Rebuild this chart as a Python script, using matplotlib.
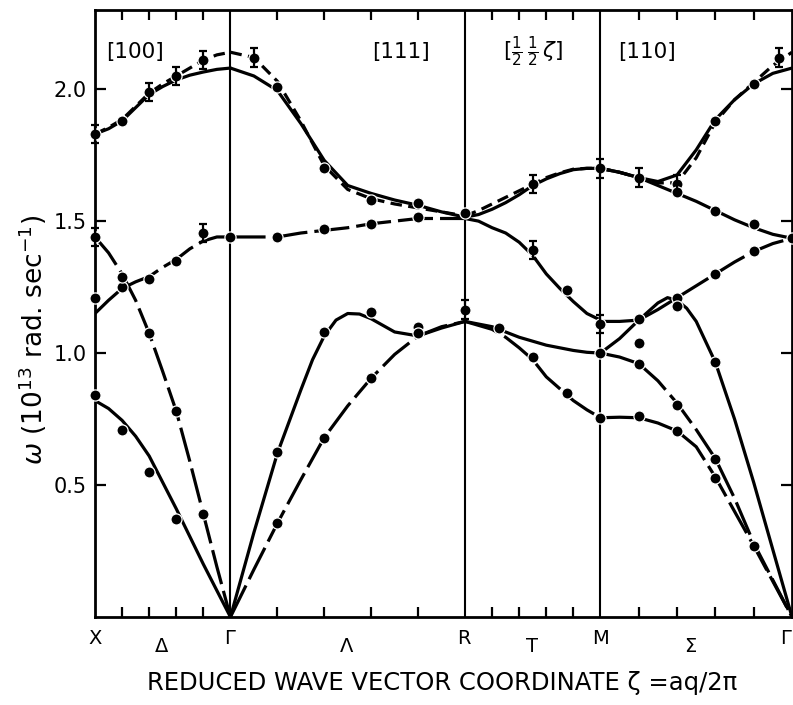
import numpy as np
import matplotlib
matplotlib.use("Agg")
import matplotlib.pyplot as plt
from matplotlib.transforms import blended_transform_factory

plt.rcParams['font.family'] = ['DejaVu Sans']
plt.rcParams['mathtext.fontset'] = 'dejavusans'

# ---------------- data (reduced wave vector zeta, omega in 1e13 rad/s) -------------
Z_100 = [0.50, 0.45, 0.40, 0.35, 0.30, 0.25, 0.20, 0.15, 0.10, 0.05, 0.00]   # X -> Gamma
Z_111 = [0.00, 0.05, 0.10, 0.15, 0.20, 0.25, 0.30, 0.35, 0.40, 0.45, 0.50]   # Gamma -> R
Z_HHZ = [0.50, 0.45, 0.40, 0.35, 0.30, 0.25, 0.20, 0.15, 0.10, 0.05, 0.00]   # R -> M
Z_110 = [0.50, 0.45, 0.40, 0.35, 0.30, 0.25, 0.20, 0.15, 0.10, 0.05, 0.00]   # M -> Gamma
Z_111_A = [0.00, 0.05, 0.10, 0.15, 0.175, 0.20, 0.225, 0.25, 0.275, 0.30, 0.35, 0.40, 0.45, 0.50]
Z_110_E = [0.50, 0.45, 0.40, 0.35, 0.325, 0.30, 0.275, 0.25, 0.20, 0.15, 0.10, 0.05, 0.00]

w100_top_solid = [1.83, 1.85, 1.88, 1.93, 1.98, 2.01, 2.035, 2.053, 2.065, 2.075, 2.08]
w100_top_dash = [1.83, 1.855, 1.885, 1.935, 1.985, 2.02, 2.05, 2.08, 2.11, 2.13, 2.14]
w100_mid = [1.15, 1.20, 1.245, 1.27, 1.29, 1.325, 1.355, 1.395, 1.425, 1.44, 1.44]
w100_steep = [1.44, 1.38, 1.30, 1.20, 1.075, 0.93, 0.78, 0.59, 0.39, 0.19, 0.00]
w100_low = [0.82, 0.79, 0.745, 0.685, 0.61, 0.51, 0.41, 0.305, 0.20, 0.10, 0.00]

w111_top_solid = [2.08, 2.05, 1.995, 1.87, 1.73, 1.635, 1.605, 1.58, 1.56, 1.535, 1.515]
w111_top_dash = [2.14, 2.12, 2.03, 1.88, 1.71, 1.62, 1.585, 1.565, 1.55, 1.535, 1.52]
w111_mid = [1.44, 1.44, 1.44, 1.455, 1.465, 1.475, 1.49, 1.50, 1.51, 1.51, 1.51]
w111_low_a = [0.00, 0.32, 0.62, 0.86, 0.975, 1.065, 1.125, 1.15, 1.148, 1.13, 1.08, 1.065, 1.095, 1.12]
w111_low_b = [0.00, 0.18, 0.355, 0.52, 0.68, 0.80, 0.905, 0.995, 1.065, 1.10, 1.12]

whhz_top_solid = [1.515, 1.525, 1.545, 1.57, 1.60, 1.635, 1.66, 1.68, 1.695, 1.70, 1.70]
whhz_top_dash = [1.52, 1.54, 1.565, 1.59, 1.615, 1.64, 1.665, 1.683, 1.697, 1.70, 1.70]
whhz_mid = [1.51, 1.50, 1.475, 1.455, 1.42, 1.37, 1.30, 1.245, 1.195, 1.15, 1.125]
whhz_c = [1.12, 1.11, 1.10, 1.08, 1.06, 1.045, 1.03, 1.02, 1.01, 1.003, 1.00]
whhz_d = [1.12, 1.105, 1.09, 1.06, 1.02, 0.975, 0.91, 0.865, 0.82, 0.785, 0.755]

w110_top_solid = [1.70, 1.685, 1.665, 1.65, 1.675, 1.77, 1.885, 1.96, 2.02, 2.06, 2.08]
w110_top_dash = [1.70, 1.685, 1.665, 1.645, 1.645, 1.74, 1.875, 1.96, 2.025, 2.09, 2.14]
w110_mid = [1.70, 1.685, 1.665, 1.635, 1.605, 1.575, 1.54, 1.505, 1.475, 1.45, 1.435]
w110_rise = [1.12, 1.12, 1.125, 1.165, 1.21, 1.255, 1.30, 1.345, 1.385, 1.415, 1.435]
w110_e = [1.00, 1.055, 1.125, 1.19, 1.21, 1.20, 1.17, 1.12, 0.965, 0.75, 0.51, 0.255, 0.00]
w110_f = [1.00, 0.985, 0.96, 0.895, 0.81, 0.71, 0.60, 0.45, 0.28, 0.14, 0.00]
w110_g = [0.755, 0.757, 0.755, 0.735, 0.705, 0.645, 0.53, 0.40, 0.27, 0.135, 0.00]

# measured points (zeta, omega, has error bar)
dots_100_z = [0.5, 0.4, 0.3, 0.2, 0.1, 0.5, 0.4, 0.4, 0.3, 0.2, 0.1, 0.5, 0.3, 0.2, 0.1, 0.5, 0.4, 0.3, 0.2]
dots_100_w = [1.83, 1.88, 1.99, 2.05, 2.11, 1.21, 1.25, 1.29, 1.28, 1.35, 1.455, 1.44, 1.075, 0.78, 0.39,
              0.84, 0.71, 0.55, 0.37]
dots_100_e = [1, 0, 1, 1, 1, 0, 0, 0, 0, 0, 1, 1, 0, 0, 0, 0, 0, 0, 0]

dots_111_z = [0.0, 0.05, 0.1, 0.2, 0.3, 0.4, 0.5, 0.1, 0.2, 0.3, 0.4, 0.1, 0.2, 0.3, 0.4, 0.5, 0.1, 0.2, 0.3, 0.4]
dots_111_w = [1.44, 2.12, 2.01, 1.70, 1.58, 1.57, 1.53, 1.44, 1.47, 1.49, 1.515, 0.625, 1.08, 1.155, 1.10,
              1.165, 0.355, 0.68, 0.905, 1.075]
dots_111_e = [0, 1, 0, 0, 0, 0, 0, 0, 0, 0, 0, 0, 0, 0, 0, 1, 0, 0, 0, 0]

dots_hhz_z = [0.25, 0.0, 0.25, 0.125, 0.0, 0.375, 0.25, 0.125, 0.0, 0.0]
dots_hhz_w = [1.64, 1.70, 1.39, 1.24, 1.11, 1.095, 0.985, 0.85, 1.00, 0.755]
dots_hhz_e = [1, 1, 1, 0, 1, 0, 0, 0, 0, 0]

dots_110_z = [0.4, 0.3, 0.3, 0.2, 0.1, 0.035, 0.2, 0.1, 0.0, 0.4, 0.3, 0.2, 0.1, 0.3, 0.2, 0.4,
              0.4, 0.3, 0.2, 0.1, 0.4, 0.3, 0.2]
dots_110_w = [1.665, 1.64, 1.61, 1.88, 2.02, 2.12, 1.54, 1.49, 1.435, 1.13, 1.21, 1.30, 1.385, 1.18, 0.965,
              1.04, 0.96, 0.805, 0.60, 0.27, 0.76, 0.705, 0.525]
dots_110_e = [1, 1, 0, 0, 0, 1, 0, 0, 0, 0, 0, 0, 0, 0, 0, 0, 0, 0, 0, 0, 0, 0, 0]

ERR = 0.035
tick_zetas = [0.1, 0.2, 0.3, 0.4]
sym_labels = ['X', 'Γ', 'R', 'M', 'Γ']
dir_labels = ['Δ', 'Λ', 'T', 'Σ']
dir_titles = ['[100]', '[111]', r'[$\frac{1}{2}\,\frac{1}{2}\,\zeta$]', '[110]']
y_ticks = [0.5, 1.0, 1.5, 2.0]
y_ticklabels = ['0.5', '1.0', '1.5', '2.0']

# ---------------- geometry of the path (units of 2*pi/a) ----------------
S3, S2 = np.sqrt(3.0), np.sqrt(2.0)
P_G1, P_R, P_M = 0.5, 0.5 + S3 / 2, 1.0 + S3 / 2
P_END = 1.0 + S3 / 2 + S2 / 2


def pos(seg, z):
    z = np.asarray(z, float)
    if seg == '100':
        return 0.5 - z
    if seg == '111':
        return P_G1 + S3 * z
    if seg == 'hhz':
        return P_R + (0.5 - z)
    return P_M + S2 * (0.5 - z)


curves = [
    ('100', Z_100, w100_top_solid, 'solid'), ('100', Z_100, w100_top_dash, 'short'),
    ('100', Z_100, w100_mid, 'long'), ('100', Z_100, w100_steep, 'long'), ('100', Z_100, w100_low, 'solid'),
    ('111', Z_111, w111_top_solid, 'solid'), ('111', Z_111, w111_top_dash, 'short'),
    ('111', Z_111, w111_mid, 'long'), ('111', Z_111_A, w111_low_a, 'solid'), ('111', Z_111, w111_low_b, 'long'),
    ('hhz', Z_HHZ, whhz_top_solid, 'solid'), ('hhz', Z_HHZ, whhz_top_dash, 'short'),
    ('hhz', Z_HHZ, whhz_mid, 'solid'), ('hhz', Z_HHZ, whhz_c, 'solid'), ('hhz', Z_HHZ, whhz_d, 'long'),
    ('110', Z_110, w110_top_solid, 'solid'), ('110', Z_110, w110_top_dash, 'short'),
    ('110', Z_110, w110_mid, 'long'), ('110', Z_110, w110_rise, 'long'), ('110', Z_110_E, w110_e, 'solid'),
    ('110', Z_110, w110_f, 'long'), ('110', Z_110, w110_g, 'long'),
]
dots = [('100', dots_100_z, dots_100_w, dots_100_e), ('111', dots_111_z, dots_111_w, dots_111_e),
        ('hhz', dots_hhz_z, dots_hhz_w, dots_hhz_e), ('110', dots_110_z, dots_110_w, dots_110_e)]

STYLES = {'solid': '-', 'long': (0, (11, 2.2)), 'short': (0, (3.6, 2.0))}

# ---------------- figure ----------------
W, H = 793, 705
fig = plt.figure(figsize=(W / 100, H / 100), dpi=100)
ax = fig.add_axes([95 / W, 1 - 617 / H, 697 / W, 607 / H])
ax.set_xlim(0, P_END)
ax.set_ylim(0, 2.30)

for seg, z, w, st in curves:
    ax.plot(pos(seg, z), w, color='black', lw=2.3, linestyle=STYLES[st],
            solid_capstyle='round', solid_joinstyle='round', dash_capstyle='butt', zorder=3)

for xv in (P_G1, P_R, P_M):
    ax.axvline(xv, color='black', lw=1.5, zorder=2)

for seg, z, w, e in dots:
    px = pos(seg, z)
    ax.plot(px, w, 'o', color='black', ms=8, mec='white', mew=0.9, zorder=4, clip_on=False)
    ex = [p for p, f in zip(px, e) if f]
    ey = [v for v, f in zip(w, e) if f]
    ax.errorbar(ex, ey, yerr=ERR, fmt='none', ecolor='black', elinewidth=1.6,
                capsize=3.2, capthick=1.6, zorder=5, clip_on=False)

# ticks
xt = []
for seg in ('100', '111', 'hhz', '110'):
    xt += list(pos(seg, tick_zetas))
ax.set_xticks(xt)
ax.set_xticklabels([])
ax.tick_params(axis='x', direction='in', length=7, width=1.6, top=True, bottom=True)
ax.set_yticks(y_ticks)
ax.set_yticklabels(y_ticklabels)
ax.tick_params(axis='y', direction='in', length=8, width=1.6, left=True, right=True,
               labelsize=15, pad=6)
for s in ax.spines.values():
    s.set_linewidth(2.0)

# symmetry-point labels
tr = blended_transform_factory(ax.transData, fig.transFigure)
sym_px = (95, 230, 464, 600, 786)
for lab, xv in zip(sym_labels, sym_px):
    ax.text((xv - 95) / 697 * P_END, 1 - 638 / H, lab, transform=tr, ha='center', va='center', fontsize=14)
for lab, xv in zip(dir_labels, (162, 347, 532, 690)):
    ax.text((xv - 95) / 697 * P_END, 1 - 646 / H, lab, transform=tr, ha='center', va='center', fontsize=14)
for lab, xv in zip(dir_titles, (135, 401, 533, 647)):
    ax.text((xv - 95) / 697 * P_END, 1 - 52 / H, lab, transform=tr, ha='center', va='center', fontsize=15.5)

fig.text(442 / W, 1 - 683 / H, 'REDUCED WAVE VECTOR COORDINATE ζ =aq/2π', ha='center', va='center',
         fontsize=17.5)
fig.text(33 / W, 1 - 340 / H, r'$\omega$ (10$^{13}$ rad. sec$^{-1}$)', rotation=90,
         ha='center', va='center', fontsize=19)

fig.savefig('out.png', dpi=100)
